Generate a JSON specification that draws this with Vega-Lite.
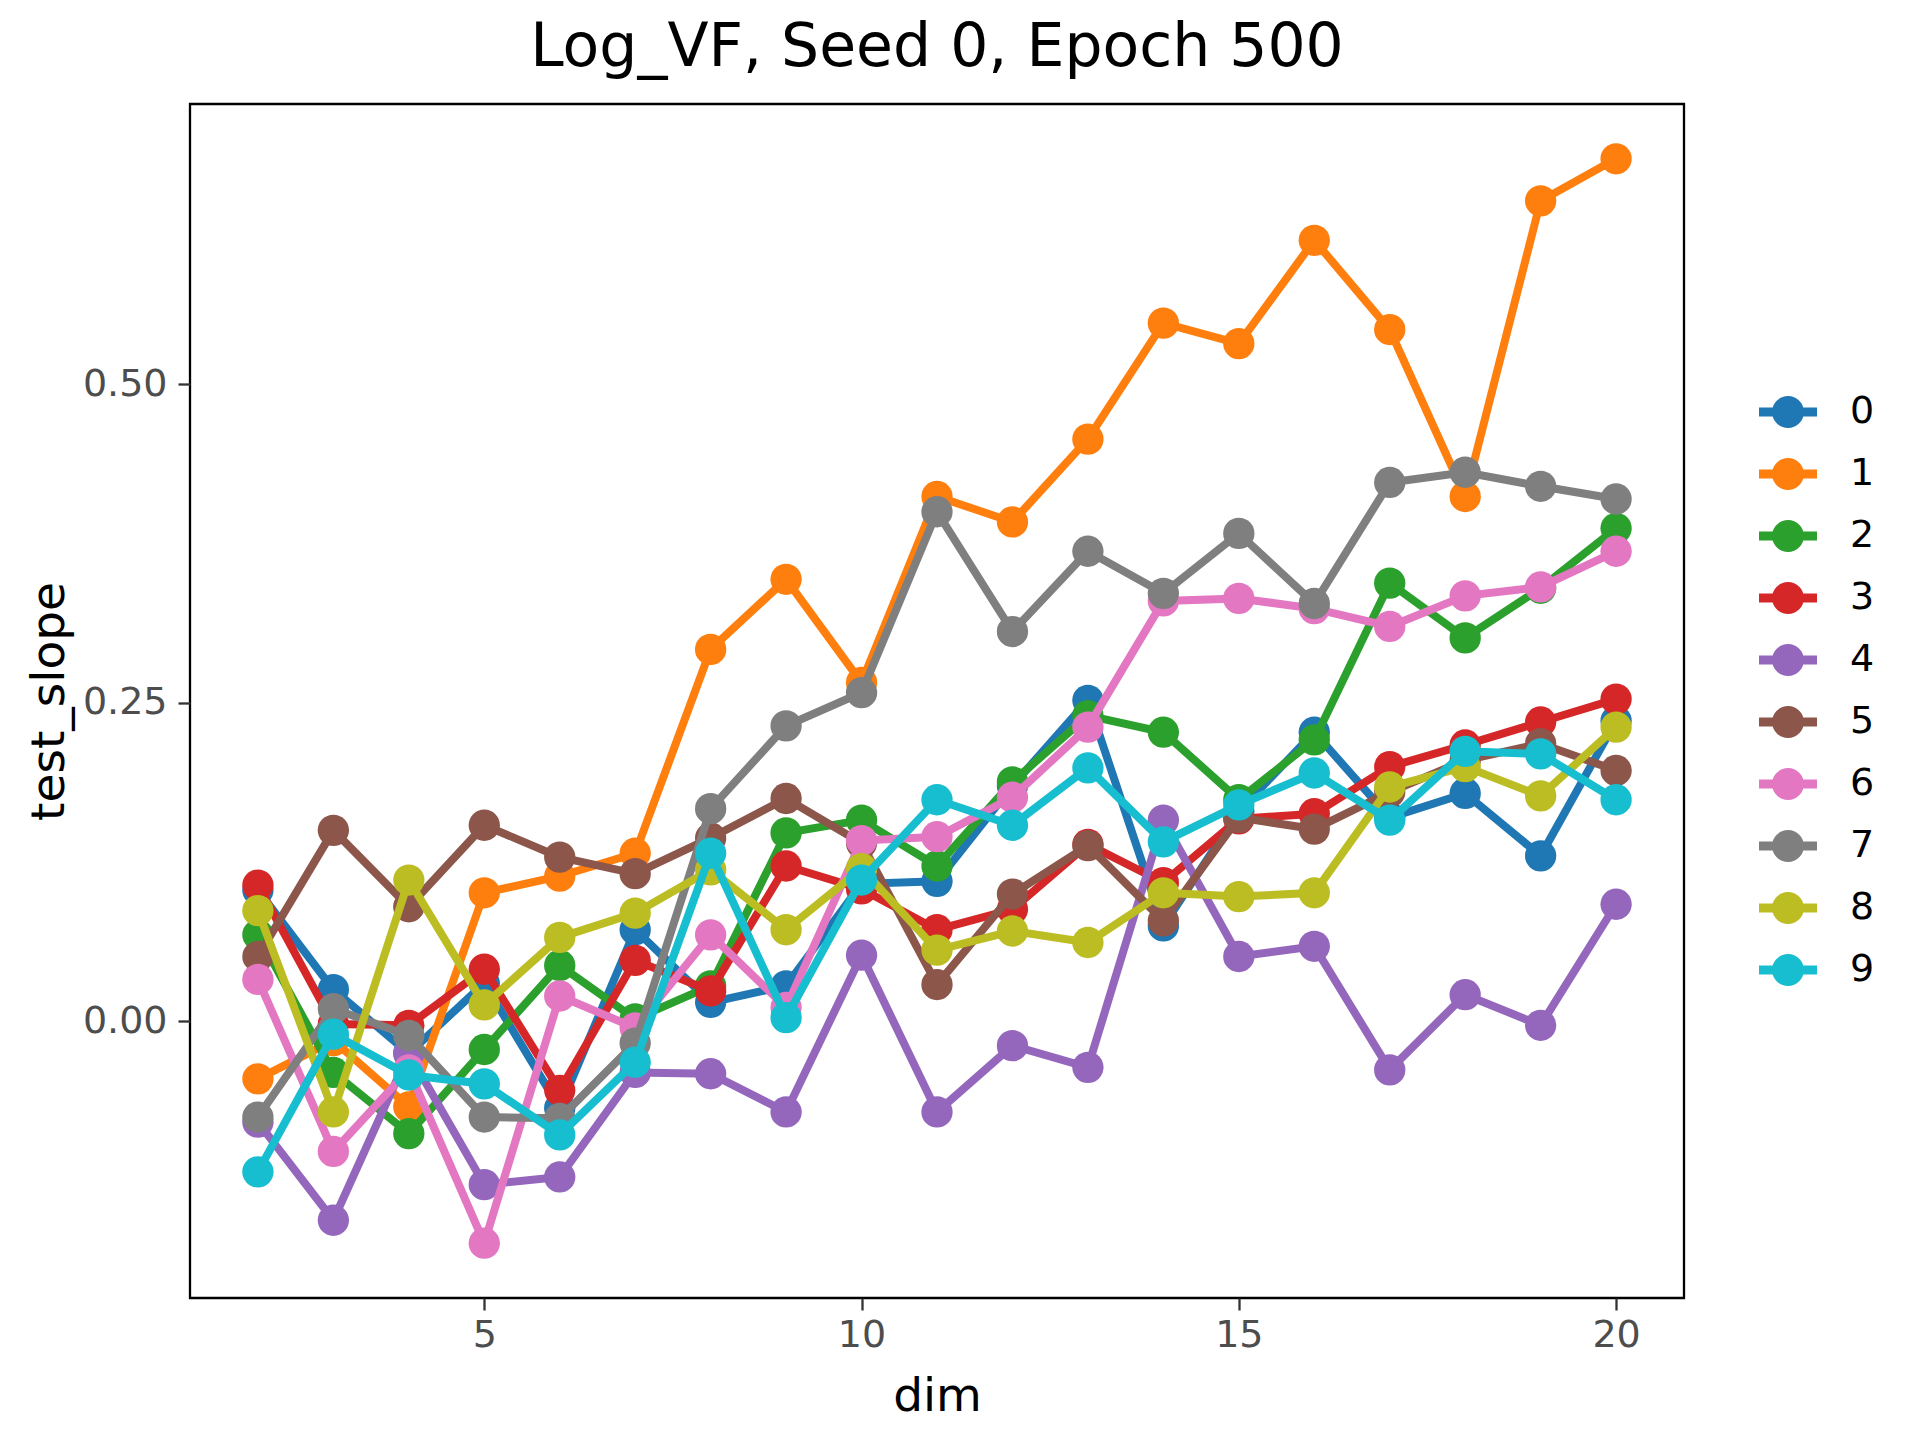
{
  "$schema": "https://vega.github.io/schema/vega-lite/v6.json",
  "autosize": {"type": "none"},
  "padding": {"left": 190, "top": 104, "right": 236, "bottom": 142},
  "width": 1494,
  "height": 1194,
  "background": "white",
  "title": {
    "text": "Log_VF, Seed 0, Epoch 500",
    "font": "DejaVu Sans",
    "fontSize": 60,
    "fontWeight": "normal",
    "color": "black",
    "anchor": "middle",
    "baseline": "alphabetic",
    "offset": 36,
    "dy": 58
  },
  "data": {
    "values": [
      {"dim": 2, "seed": "0", "test_slope": 0.103}, {"dim": 3, "seed": "0", "test_slope": 0.025}, {"dim": 4, "seed": "0", "test_slope": -0.025}, {"dim": 5, "seed": "0", "test_slope": 0.030}, {"dim": 6, "seed": "0", "test_slope": -0.068}, {"dim": 7, "seed": "0", "test_slope": 0.072}, {"dim": 8, "seed": "0", "test_slope": 0.015}, {"dim": 9, "seed": "0", "test_slope": 0.028}, {"dim": 10, "seed": "0", "test_slope": 0.108}, {"dim": 11, "seed": "0", "test_slope": 0.110}, {"dim": 12, "seed": "0", "test_slope": 0.185}, {"dim": 13, "seed": "0", "test_slope": 0.252}, {"dim": 14, "seed": "0", "test_slope": 0.075}, {"dim": 15, "seed": "0", "test_slope": 0.165}, {"dim": 16, "seed": "0", "test_slope": 0.227}, {"dim": 17, "seed": "0", "test_slope": 0.160}, {"dim": 18, "seed": "0", "test_slope": 0.179}, {"dim": 19, "seed": "0", "test_slope": 0.130}, {"dim": 20, "seed": "0", "test_slope": 0.236},
      {"dim": 2, "seed": "1", "test_slope": -0.045}, {"dim": 3, "seed": "1", "test_slope": -0.015}, {"dim": 4, "seed": "1", "test_slope": -0.067}, {"dim": 5, "seed": "1", "test_slope": 0.101}, {"dim": 6, "seed": "1", "test_slope": 0.114}, {"dim": 7, "seed": "1", "test_slope": 0.132}, {"dim": 8, "seed": "1", "test_slope": 0.292}, {"dim": 9, "seed": "1", "test_slope": 0.347}, {"dim": 10, "seed": "1", "test_slope": 0.266}, {"dim": 11, "seed": "1", "test_slope": 0.412}, {"dim": 12, "seed": "1", "test_slope": 0.392}, {"dim": 13, "seed": "1", "test_slope": 0.457}, {"dim": 14, "seed": "1", "test_slope": 0.548}, {"dim": 15, "seed": "1", "test_slope": 0.532}, {"dim": 16, "seed": "1", "test_slope": 0.613}, {"dim": 17, "seed": "1", "test_slope": 0.543}, {"dim": 18, "seed": "1", "test_slope": 0.412}, {"dim": 19, "seed": "1", "test_slope": 0.644}, {"dim": 20, "seed": "1", "test_slope": 0.677},
      {"dim": 2, "seed": "2", "test_slope": 0.068}, {"dim": 3, "seed": "2", "test_slope": -0.040}, {"dim": 4, "seed": "2", "test_slope": -0.088}, {"dim": 5, "seed": "2", "test_slope": -0.022}, {"dim": 6, "seed": "2", "test_slope": 0.044}, {"dim": 7, "seed": "2", "test_slope": 0.002}, {"dim": 8, "seed": "2", "test_slope": 0.028}, {"dim": 9, "seed": "2", "test_slope": 0.148}, {"dim": 10, "seed": "2", "test_slope": 0.158}, {"dim": 11, "seed": "2", "test_slope": 0.122}, {"dim": 12, "seed": "2", "test_slope": 0.188}, {"dim": 13, "seed": "2", "test_slope": 0.240}, {"dim": 14, "seed": "2", "test_slope": 0.227}, {"dim": 15, "seed": "2", "test_slope": 0.174}, {"dim": 16, "seed": "2", "test_slope": 0.221}, {"dim": 17, "seed": "2", "test_slope": 0.344}, {"dim": 18, "seed": "2", "test_slope": 0.301}, {"dim": 19, "seed": "2", "test_slope": 0.340}, {"dim": 20, "seed": "2", "test_slope": 0.387},
      {"dim": 2, "seed": "3", "test_slope": 0.107}, {"dim": 3, "seed": "3", "test_slope": -0.002}, {"dim": 4, "seed": "3", "test_slope": -0.003}, {"dim": 5, "seed": "3", "test_slope": 0.041}, {"dim": 6, "seed": "3", "test_slope": -0.054}, {"dim": 7, "seed": "3", "test_slope": 0.048}, {"dim": 8, "seed": "3", "test_slope": 0.024}, {"dim": 9, "seed": "3", "test_slope": 0.122}, {"dim": 10, "seed": "3", "test_slope": 0.104}, {"dim": 11, "seed": "3", "test_slope": 0.072}, {"dim": 12, "seed": "3", "test_slope": 0.088}, {"dim": 13, "seed": "3", "test_slope": 0.139}, {"dim": 14, "seed": "3", "test_slope": 0.109}, {"dim": 15, "seed": "3", "test_slope": 0.159}, {"dim": 16, "seed": "3", "test_slope": 0.163}, {"dim": 17, "seed": "3", "test_slope": 0.200}, {"dim": 18, "seed": "3", "test_slope": 0.217}, {"dim": 19, "seed": "3", "test_slope": 0.235}, {"dim": 20, "seed": "3", "test_slope": 0.253},
      {"dim": 2, "seed": "4", "test_slope": -0.079}, {"dim": 3, "seed": "4", "test_slope": -0.156}, {"dim": 4, "seed": "4", "test_slope": -0.025}, {"dim": 5, "seed": "4", "test_slope": -0.128}, {"dim": 6, "seed": "4", "test_slope": -0.122}, {"dim": 7, "seed": "4", "test_slope": -0.040}, {"dim": 8, "seed": "4", "test_slope": -0.041}, {"dim": 9, "seed": "4", "test_slope": -0.071}, {"dim": 10, "seed": "4", "test_slope": 0.052}, {"dim": 11, "seed": "4", "test_slope": -0.071}, {"dim": 12, "seed": "4", "test_slope": -0.019}, {"dim": 13, "seed": "4", "test_slope": -0.036}, {"dim": 14, "seed": "4", "test_slope": 0.158}, {"dim": 15, "seed": "4", "test_slope": 0.051}, {"dim": 16, "seed": "4", "test_slope": 0.059}, {"dim": 17, "seed": "4", "test_slope": -0.038}, {"dim": 18, "seed": "4", "test_slope": 0.021}, {"dim": 19, "seed": "4", "test_slope": -0.003}, {"dim": 20, "seed": "4", "test_slope": 0.092},
      {"dim": 2, "seed": "5", "test_slope": 0.051}, {"dim": 3, "seed": "5", "test_slope": 0.150}, {"dim": 4, "seed": "5", "test_slope": 0.090}, {"dim": 5, "seed": "5", "test_slope": 0.154}, {"dim": 6, "seed": "5", "test_slope": 0.129}, {"dim": 7, "seed": "5", "test_slope": 0.116}, {"dim": 8, "seed": "5", "test_slope": 0.144}, {"dim": 9, "seed": "5", "test_slope": 0.175}, {"dim": 10, "seed": "5", "test_slope": 0.140}, {"dim": 11, "seed": "5", "test_slope": 0.029}, {"dim": 12, "seed": "5", "test_slope": 0.100}, {"dim": 13, "seed": "5", "test_slope": 0.138}, {"dim": 14, "seed": "5", "test_slope": 0.079}, {"dim": 15, "seed": "5", "test_slope": 0.160}, {"dim": 16, "seed": "5", "test_slope": 0.151}, {"dim": 17, "seed": "5", "test_slope": 0.180}, {"dim": 18, "seed": "5", "test_slope": 0.205}, {"dim": 19, "seed": "5", "test_slope": 0.218}, {"dim": 20, "seed": "5", "test_slope": 0.197},
      {"dim": 2, "seed": "6", "test_slope": 0.033}, {"dim": 3, "seed": "6", "test_slope": -0.102}, {"dim": 4, "seed": "6", "test_slope": -0.038}, {"dim": 5, "seed": "6", "test_slope": -0.174}, {"dim": 6, "seed": "6", "test_slope": 0.020}, {"dim": 7, "seed": "6", "test_slope": -0.005}, {"dim": 8, "seed": "6", "test_slope": 0.068}, {"dim": 9, "seed": "6", "test_slope": 0.011}, {"dim": 10, "seed": "6", "test_slope": 0.142}, {"dim": 11, "seed": "6", "test_slope": 0.145}, {"dim": 12, "seed": "6", "test_slope": 0.176}, {"dim": 13, "seed": "6", "test_slope": 0.231}, {"dim": 14, "seed": "6", "test_slope": 0.330}, {"dim": 15, "seed": "6", "test_slope": 0.332}, {"dim": 16, "seed": "6", "test_slope": 0.324}, {"dim": 17, "seed": "6", "test_slope": 0.310}, {"dim": 18, "seed": "6", "test_slope": 0.334}, {"dim": 19, "seed": "6", "test_slope": 0.341}, {"dim": 20, "seed": "6", "test_slope": 0.369},
      {"dim": 2, "seed": "7", "test_slope": -0.075}, {"dim": 3, "seed": "7", "test_slope": 0.010}, {"dim": 4, "seed": "7", "test_slope": -0.011}, {"dim": 5, "seed": "7", "test_slope": -0.075}, {"dim": 6, "seed": "7", "test_slope": -0.076}, {"dim": 7, "seed": "7", "test_slope": -0.017}, {"dim": 8, "seed": "7", "test_slope": 0.167}, {"dim": 9, "seed": "7", "test_slope": 0.232}, {"dim": 10, "seed": "7", "test_slope": 0.258}, {"dim": 11, "seed": "7", "test_slope": 0.400}, {"dim": 12, "seed": "7", "test_slope": 0.306}, {"dim": 13, "seed": "7", "test_slope": 0.369}, {"dim": 14, "seed": "7", "test_slope": 0.336}, {"dim": 15, "seed": "7", "test_slope": 0.383}, {"dim": 16, "seed": "7", "test_slope": 0.328}, {"dim": 17, "seed": "7", "test_slope": 0.423}, {"dim": 18, "seed": "7", "test_slope": 0.431}, {"dim": 19, "seed": "7", "test_slope": 0.420}, {"dim": 20, "seed": "7", "test_slope": 0.410},
      {"dim": 2, "seed": "8", "test_slope": 0.087}, {"dim": 3, "seed": "8", "test_slope": -0.071}, {"dim": 4, "seed": "8", "test_slope": 0.111}, {"dim": 5, "seed": "8", "test_slope": 0.013}, {"dim": 6, "seed": "8", "test_slope": 0.066}, {"dim": 7, "seed": "8", "test_slope": 0.085}, {"dim": 8, "seed": "8", "test_slope": 0.119}, {"dim": 9, "seed": "8", "test_slope": 0.072}, {"dim": 10, "seed": "8", "test_slope": 0.120}, {"dim": 11, "seed": "8", "test_slope": 0.056}, {"dim": 12, "seed": "8", "test_slope": 0.071}, {"dim": 13, "seed": "8", "test_slope": 0.062}, {"dim": 14, "seed": "8", "test_slope": 0.101}, {"dim": 15, "seed": "8", "test_slope": 0.098}, {"dim": 16, "seed": "8", "test_slope": 0.101}, {"dim": 17, "seed": "8", "test_slope": 0.184}, {"dim": 18, "seed": "8", "test_slope": 0.200}, {"dim": 19, "seed": "8", "test_slope": 0.177}, {"dim": 20, "seed": "8", "test_slope": 0.231},
      {"dim": 2, "seed": "9", "test_slope": -0.118}, {"dim": 3, "seed": "9", "test_slope": -0.010}, {"dim": 4, "seed": "9", "test_slope": -0.042}, {"dim": 5, "seed": "9", "test_slope": -0.049}, {"dim": 6, "seed": "9", "test_slope": -0.089}, {"dim": 7, "seed": "9", "test_slope": -0.032}, {"dim": 8, "seed": "9", "test_slope": 0.132}, {"dim": 9, "seed": "9", "test_slope": 0.003}, {"dim": 10, "seed": "9", "test_slope": 0.111}, {"dim": 11, "seed": "9", "test_slope": 0.174}, {"dim": 12, "seed": "9", "test_slope": 0.154}, {"dim": 13, "seed": "9", "test_slope": 0.199}, {"dim": 14, "seed": "9", "test_slope": 0.141}, {"dim": 15, "seed": "9", "test_slope": 0.170}, {"dim": 16, "seed": "9", "test_slope": 0.195}, {"dim": 17, "seed": "9", "test_slope": 0.158}, {"dim": 18, "seed": "9", "test_slope": 0.212}, {"dim": 19, "seed": "9", "test_slope": 0.210}, {"dim": 20, "seed": "9", "test_slope": 0.174}
    ]
  },
  "encoding": {
    "x": {
      "field": "dim",
      "type": "quantitative",
      "title": "dim",
      "scale": {"domain": [1.1, 20.9], "nice": false, "zero": false},
      "axis": {
        "values": [5, 10, 15, 20],
        "format": "d",
        "titleX": 747,
        "titleY": 112,
        "titleBaseline": "alphabetic"
      }
    },
    "y": {
      "field": "test_slope",
      "type": "quantitative",
      "title": "test_slope",
      "scale": {"domain": [-0.217, 0.72], "nice": false, "zero": false},
      "axis": {
        "values": [0, 0.25, 0.5],
        "format": ".2f",
        "titleX": -127,
        "titleY": 597,
        "titleAngle": -90,
        "titleBaseline": "alphabetic"
      }
    },
    "color": {
      "field": "seed",
      "type": "nominal",
      "scale": {
        "domain": ["0", "1", "2", "3", "4", "5", "6", "7", "8", "9"],
        "range": ["#1f77b4", "#ff7f0e", "#2ca02c", "#d62728", "#9467bd", "#8c564b", "#e377c2", "#7f7f7f", "#bcbd22", "#17becf"]
      },
      "legend": {
        "title": null,
        "orient": "none",
        "legendX": 1569,
        "legendY": 279,
        "padding": 0,
        "symbolType": "M-1,-0.155H1V0.155H-1Z M-0.55,0A0.55,0.55 0 1,1 0.55,0A0.55,0.55 0 1,1 -0.55,0Z",
        "symbolSize": 3364,
        "symbolStrokeWidth": 0,
        "symbolOpacity": 1,
        "rowPadding": 14,
        "labelOffset": 33,
        "labelFontSize": 38,
        "labelFont": "DejaVu Sans",
        "labelColor": "black",
        "labelBaseline": "middle"
      }
    }
  },
  "layer": [
    {"transform": [{"filter": "datum.seed == '0'"}], "mark": {"type": "line", "strokeWidth": 8, "point": {"size": 980, "filled": true, "opacity": 1}}},
    {"transform": [{"filter": "datum.seed == '1'"}], "mark": {"type": "line", "strokeWidth": 8, "point": {"size": 980, "filled": true, "opacity": 1}}},
    {"transform": [{"filter": "datum.seed == '2'"}], "mark": {"type": "line", "strokeWidth": 8, "point": {"size": 980, "filled": true, "opacity": 1}}},
    {"transform": [{"filter": "datum.seed == '3'"}], "mark": {"type": "line", "strokeWidth": 8, "point": {"size": 980, "filled": true, "opacity": 1}}},
    {"transform": [{"filter": "datum.seed == '4'"}], "mark": {"type": "line", "strokeWidth": 8, "point": {"size": 980, "filled": true, "opacity": 1}}},
    {"transform": [{"filter": "datum.seed == '5'"}], "mark": {"type": "line", "strokeWidth": 8, "point": {"size": 980, "filled": true, "opacity": 1}}},
    {"transform": [{"filter": "datum.seed == '6'"}], "mark": {"type": "line", "strokeWidth": 8, "point": {"size": 980, "filled": true, "opacity": 1}}},
    {"transform": [{"filter": "datum.seed == '7'"}], "mark": {"type": "line", "strokeWidth": 8, "point": {"size": 980, "filled": true, "opacity": 1}}},
    {"transform": [{"filter": "datum.seed == '8'"}], "mark": {"type": "line", "strokeWidth": 8, "point": {"size": 980, "filled": true, "opacity": 1}}},
    {"transform": [{"filter": "datum.seed == '9'"}], "mark": {"type": "line", "strokeWidth": 8, "point": {"size": 980, "filled": true, "opacity": 1}}}
  ],
  "config": {
    "font": "DejaVu Sans",
    "view": {"stroke": "black", "strokeWidth": 2.3},
    "axis": {
      "grid": false,
      "domain": false,
      "tickColor": "#333333",
      "tickWidth": 2.3,
      "tickSize": 12,
      "labelFont": "DejaVu Sans",
      "labelFontSize": 38,
      "labelColor": "#4D4D4D",
      "titleFont": "DejaVu Sans",
      "titleFontSize": 47,
      "titleFontWeight": "normal",
      "titleColor": "black"
    },
    "axisX": {"labelPadding": 6},
    "axisY": {"labelPadding": 11}
  }
}
